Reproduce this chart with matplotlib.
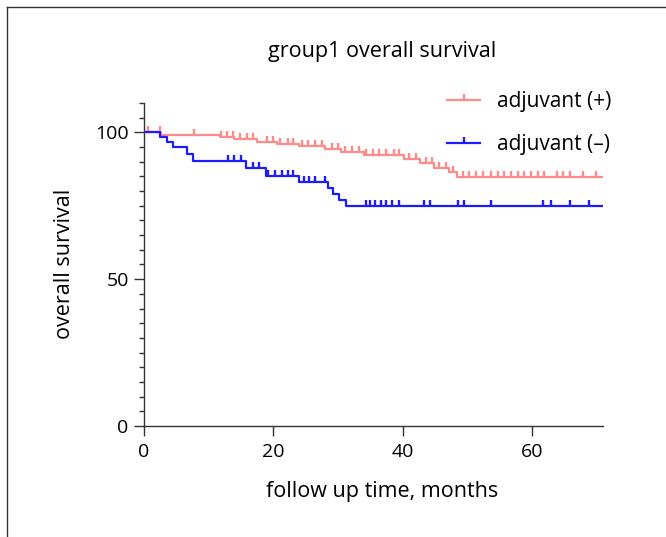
import matplotlib.pyplot as plt
import numpy as np
from matplotlib.lines import Line2D

plt.rcParams['font.family'] = ['Open Sans', 'DejaVu Sans']

# adjuvant (+) : step times / survival levels / censored times
pos_t = [0, 2.6, 11.8, 14.0, 17.5, 20.5, 24.0, 28.0, 30.5, 34.0, 40.2, 42.7, 44.9, 47.2, 48.4]
pos_s = [100, 99.0, 98.3, 97.6, 96.8, 96.0, 95.2, 94.3, 93.4, 92.4, 90.9, 89.4, 88.0, 86.4, 84.7]
pos_cens = [0.6, 2.4, 7.8, 11.9, 12.9, 13.8, 14.9, 16.0, 16.9, 19.1, 20.0, 21.1, 22.2, 23.1,
            24.5, 25.4, 26.5, 27.6, 29.1, 30.0, 31.1, 32.2, 33.2, 34.3, 35.5, 36.4, 37.5, 38.6,
            39.4, 41.0, 42.0, 43.6, 44.6, 45.6, 46.7, 47.8, 49.3, 50.2, 51.3, 52.4, 53.6, 54.7,
            55.7, 56.7, 57.8, 58.8, 59.8, 60.9, 61.9, 63.9, 64.8, 65.9, 67.9, 69.9]

# adjuvant (-)
neg_t = [0, 2.5, 3.5, 4.5, 6.7, 7.6, 15.8, 18.8, 23.9, 28.4, 29.3, 30.1, 31.2]
neg_s = [100, 98.5, 96.8, 95.0, 92.6, 90.3, 87.8, 85.3, 83.0, 81.0, 79.0, 77.0, 75.0]
neg_cens = [13.0, 14.0, 15.0, 16.9, 17.8, 19.2, 20.3, 21.4, 22.3, 23.1, 24.7, 25.6, 26.5, 28.0,
            34.3, 35.0, 35.8, 36.6, 37.4, 38.4, 39.4, 43.3, 44.3, 48.5, 49.5, 53.6, 61.7, 62.9,
            65.9, 68.8]

t_end = 70.8
pink = '#ff8a8a'
blue = '#1c1cff'

fig = plt.figure(figsize=(6.66, 5.37), dpi=100)
ax = fig.add_axes([0.2162, 0.2067, 0.6892, 0.6015])


def km(t, s, cens, color, label):
    tt = list(t) + [t_end]
    ss = list(s) + [s[-1]]
    ax.step(tt, ss, where='post', color=color, lw=1.6, zorder=3)
    idx = np.searchsorted(t, cens, side='right') - 1
    ax.plot(cens, np.array(s)[idx], ls='none', marker=2, ms=4.5, mew=1.7, color=color, zorder=3)
    return Line2D([], [], color=color, lw=1.6, marker=2, ms=4.5, mew=1.7, label=label)


h1 = km(pos_t, pos_s, pos_cens, pink, 'adjuvant (+)')
h2 = km(neg_t, neg_s, neg_cens, blue, 'adjuvant (–)')

ax.set_xlim(0, 71)
ax.set_ylim(0, 110)
ax.set_xticks([0, 20, 40, 60])
ax.set_yticks([0, 50, 100])
ax.set_yticks(np.arange(0, 111, 5), minor=True)
for s in ['top', 'right']:
    ax.spines[s].set_visible(False)
for s in ['left', 'bottom']:
    ax.spines[s].set_color('#333333')
    ax.spines[s].set_linewidth(1.0)
ax.tick_params(axis='both', which='major', labelsize=14, color='#333333', length=7.5, width=1.0)
ax.tick_params(axis='x', which='major', pad=5)
ax.tick_params(axis='y', which='minor', length=3.5, width=1.0, color='#333333')
ax.tick_params(axis='x', which='minor', length=0)

ax.legend(handles=[h1, h2], loc='upper left', bbox_to_anchor=(0.643, 0.865), bbox_transform=fig.transFigure,
          frameon=False, fontsize=15, handlelength=1.6, labelspacing=1.05, handletextpad=0.8)

fig.text(382 / 666, 1 - 52 / 537, 'group1 overall survival', ha='center', va='center', fontsize=15.5)
fig.text(382 / 666, 1 - 492 / 537, 'follow up time, months', ha='center', va='center', fontsize=15.5)
fig.text(65 / 666, 1 - 264 / 537, 'overall survival', ha='center', va='center', rotation=90, fontsize=15.5)

# outer frame (top and left)
fig.add_artist(Line2D([7 / 666, 1], [1 - 7 / 537, 1 - 7 / 537], transform=fig.transFigure, color='#333333', lw=1.0))
fig.add_artist(Line2D([7 / 666, 7 / 666], [0, 1 - 7 / 537], transform=fig.transFigure, color='#333333', lw=1.0))

fig.savefig('out.png', dpi=100)
